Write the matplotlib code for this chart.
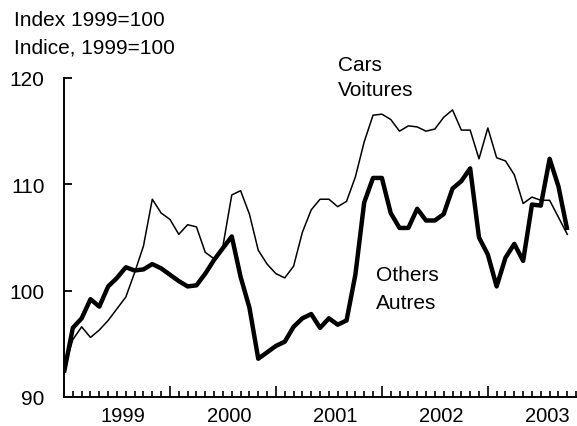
import matplotlib
matplotlib.use("Agg")
import matplotlib.pyplot as plt
from matplotlib.ticker import MultipleLocator

plt.rcParams["font.family"] = ["Liberation Sans", "DejaVu Sans"]
plt.rcParams["font.size"] = 15

# Monthly index values, January 1999 onwards (index 1999=100)
cars = [
    92.6, 95.4, 96.6, 95.6, 96.3, 97.2, 98.3, 99.4, 101.7, 104.2,
    108.6, 107.3, 106.7, 105.3, 106.2, 106.0, 103.6, 103.0, 104.2, 109.0,
    109.4, 107.2, 103.8, 102.5, 101.6, 101.2, 102.3, 105.5, 107.6, 108.6,
    108.6, 107.9, 108.4, 110.7, 114.0, 116.5, 116.6, 116.1, 115.0, 115.5,
    115.4, 115.0, 115.2, 116.3, 117.0, 115.1, 115.1, 112.4, 115.3, 112.5,
    112.2, 110.9, 108.2, 108.8, 108.5, 108.5, 106.9, 105.3,
]
others = [
    92.3, 96.5, 97.4, 99.2, 98.5, 100.4, 101.2, 102.2, 101.9, 102.0,
    102.5, 102.1, 101.5, 100.9, 100.4, 100.5, 101.6, 102.9, 104.0, 105.1,
    101.3, 98.4, 93.6, 94.2, 94.8, 95.2, 96.6, 97.4, 97.8, 96.5,
    97.4, 96.8, 97.2, 101.5, 108.3, 110.6, 110.6, 107.3, 105.9, 105.9,
    107.7, 106.6, 106.6, 107.2, 109.6, 110.3, 111.5, 105.0, 103.4, 100.4,
    103.1, 104.4, 102.8, 108.1, 108.0, 112.4, 109.8, 105.7,
]
years = ["1999", "2000", "2001", "2002", "2003"]
months = list(range(len(cars)))

fig = plt.figure(figsize=(5.77, 4.27), dpi=100)
ax = fig.add_axes([64 / 577, 29 / 427, 513 / 577, 319 / 427])

ax.plot(months, cars, color="black", lw=1.1, solid_joinstyle="round")
ax.plot(months, others, color="black", lw=3.2, solid_joinstyle="round",
        solid_capstyle="butt")

ax.set_xlim(0, 58.1)
ax.set_ylim(90, 120)

for side in ("top", "right"):
    ax.spines[side].set_visible(False)
for side in ("left", "bottom"):
    ax.spines[side].set_linewidth(1.4)

ax.set_yticks([90, 100, 110, 120])
ax.tick_params(axis="y", direction="in", length=6, width=1.3, pad=14)
ax.set_xticks([12 * (i + 1) for i in range(len(years) - 1)])
ax.xaxis.set_minor_locator(MultipleLocator(1))
ax.tick_params(axis="x", which="major", direction="in", length=8, width=1.2,
               labelbottom=False)
ax.tick_params(axis="x", which="minor", direction="in", length=4, width=1.2)

# year labels sit under the middle of each year
for i, yr in enumerate(years):
    ax.text(12 * i + 6.7, -0.057, yr, transform=ax.get_xaxis_transform(),
            ha="center", va="center", fontsize=14.5)

fig.text(14 / 577, 1 - 20 / 427, "Index 1999=100", va="center", ha="left")
fig.text(14 / 577, 1 - 48 / 427, "Indice, 1999=100", va="center", ha="left")

ax.text(31.0, 121.3, "Cars", va="center", ha="left")
ax.text(31.0, 118.9, "Voitures", va="center", ha="left")
ax.text(35.3, 101.5, "Others", va="center", ha="left")
ax.text(35.3, 98.9, "Autres", va="center", ha="left")

fig.savefig("out.png", dpi=100)
